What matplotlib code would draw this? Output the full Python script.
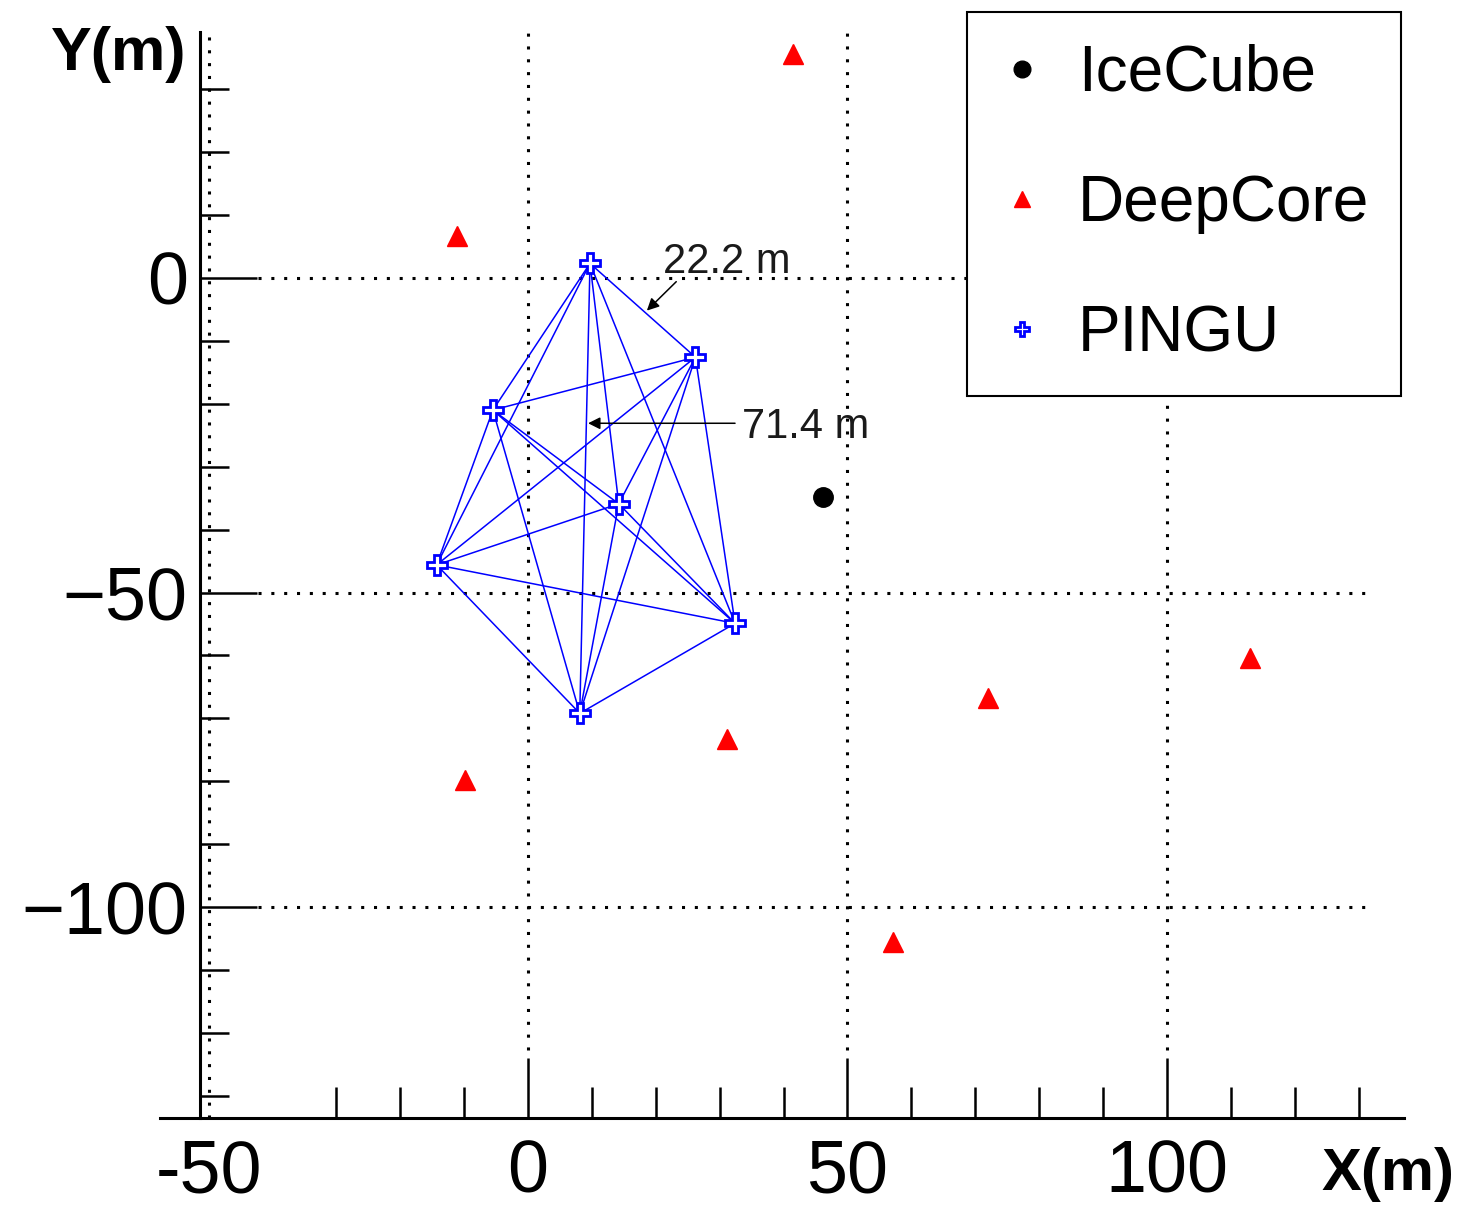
from itertools import combinations

import matplotlib
matplotlib.use("Agg")
import matplotlib.pyplot as plt

plt.rcParams["font.family"] = ["Liberation Sans", "DejaVu Sans"]

# string positions (m)
icecube_x = [46.2]
icecube_y = [-34.8]

deepcore_x = [41.5, -11.1, -9.9, 31.1, 72.0, 113.0, 57.1]
deepcore_y = [35.6, 6.7, -79.8, -73.3, -66.8, -60.4, -105.6]

pingu_x = [9.7, 26.2, -5.5, 14.2, -14.3, 32.4, 8.1]
pingu_y = [2.3, -12.6, -21.0, -35.9, -45.6, -54.9, -69.2]

x_major = [-50, 0, 50, 100]
x_major_labels = ["-50", "0", "50", "100"]
x_minor = [-30, -20, -10, 10, 20, 30, 40, 60, 70, 80, 90, 110, 120, 130]
y_major = [0, -50, -100]
y_major_labels = ["0", "\u221250", "\u2212100"]
y_minor = [30, 20, 10, -10, -20, -30, -40, -60, -70, -80, -90, -110, -120, -130]
grid_x = [-50, 0, 50, 100]
grid_y = [0, -50, -100]

BLUE = "#0000ff"
RED = "#ff0000"
DOTS = (0, (1.0, 3.2))

fig = plt.figure(figsize=(14.84, 12.05), dpi=100)
ax = fig.add_axes([160 / 1484, 87 / 1205, 1244 / 1484, 1100 / 1205])
ax.set_xlim(-57.6, 137.1)
ax.set_ylim(-133.5, 41.3)

# grid (ROOT style dotted)
for gx in grid_x:
    lo = 0 if gx == -50 else 0.062
    ax.axvline(gx, ymin=lo, ymax=0.99, color="black", lw=2.2, ls=DOTS, zorder=1)
for gy in grid_y:
    ax.axhline(gy, xmin=0.079, xmax=0.973, color="black", lw=2.2, ls=DOTS, zorder=1)

# PINGU: every string joined to every other
for i, j in combinations(range(len(pingu_x)), 2):
    ax.plot([pingu_x[i], pingu_x[j]], [pingu_y[i], pingu_y[j]],
            color=BLUE, lw=1.1, zorder=2)

ax.plot(icecube_x, icecube_y, ls="none", marker="o", ms=14, color="black",
        label="IceCube", zorder=4)
ax.plot(deepcore_x, deepcore_y, ls="none", marker="^", ms=14.4, color=RED,
        mec=RED, label="DeepCore", zorder=4)
ax.plot(pingu_x, pingu_y, ls="none", marker="P", ms=14, mfc="white", mec=BLUE,
        mew=2.0, label="PINGU", zorder=4)

# spacing annotations
arrow = dict(arrowstyle="-|>", color="black", lw=1.1, mutation_scale=18,
             shrinkA=0, shrinkB=0)
ax.annotate("", xy=(18.6, -5.2), xytext=(23.2, -0.6), arrowprops=arrow, zorder=5)
ax.text(21.1, 0.8, "22.2 m", fontsize=30, color="#1a1a1a", va="baseline", zorder=5)
ax.annotate("", xy=(9.4, -23.1), xytext=(32.4, -23.1), arrowprops=arrow, zorder=5)
ax.text(33.5, -25.4, "71.4 m", fontsize=30, color="#1a1a1a", va="baseline", zorder=5)

# axes
for side in ["top", "right"]:
    ax.spines[side].set_visible(False)
ax.spines["left"].set_position(("data", -51.3))
ax.spines["left"].set_bounds(-133.5, 39.1)
ax.spines["left"].set_linewidth(2.2)
ax.spines["bottom"].set_linewidth(2.2)

ax.set_xticks(x_major, x_major_labels)
ax.set_xticks(x_minor, minor=True)
ax.set_yticks(y_major, y_major_labels)
ax.set_yticks(y_minor, minor=True)
ax.tick_params(axis="x", which="major", direction="in", length=43, width=1.8,
               labelsize=53, pad=15)
ax.tick_params(axis="x", which="minor", direction="in", length=22, width=1.8)
ax.tick_params(axis="y", which="major", direction="in", length=41, width=1.8,
               labelsize=53, pad=9)
ax.tick_params(axis="y", which="minor", direction="in", length=21, width=1.8)
ax.xaxis.get_major_ticks()[0].tick1line.set_visible(False)

fig.text(119 / 1484, 1 - 70 / 1205, "Y(m)", fontsize=44, fontweight="bold",
         ha="center", va="baseline")
fig.text(1388 / 1484, 1 - 1190 / 1205, "X(m)", fontsize=43, fontweight="bold",
         ha="center", va="baseline")

leg = ax.legend(loc="upper left", bbox_to_anchor=(967 / 1484, 1 - 12 / 1205),
                bbox_transform=fig.transFigure, borderaxespad=0, fontsize=46,
                frameon=True, fancybox=False, framealpha=1, edgecolor="black",
                borderpad=0.5, labelspacing=1.1, handlelength=0.72,
                handletextpad=0.52, numpoints=1)
leg.get_frame().set_linewidth(1.5)
for h, ms in zip(leg.legend_handles, [12, 11.5, 10]):
    h.set_markersize(ms)

fig.savefig("out.png", dpi=100)
